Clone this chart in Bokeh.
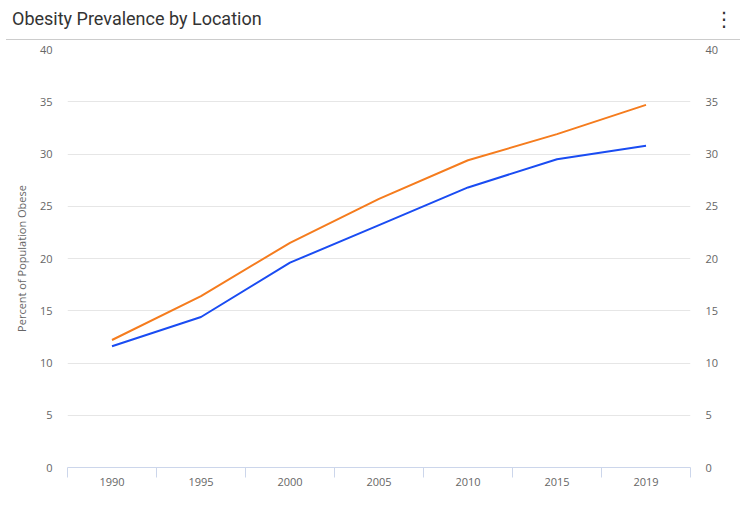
from bokeh.plotting import figure
from bokeh.layouts import column
from bokeh.models import (Range1d, LinearAxis, FixedTicker, Div)
from bokeh.embed import file_html
from bokeh.resources import INLINE

years = ["1990", "1995", "2000", "2005", "2010", "2015", "2019"]
series_a = [11.6, 14.4, 19.6, 23.2, 26.8, 29.5, 30.8]   # blue
series_b = [12.2, 16.4, 21.5, 25.7, 29.4, 31.9, 34.7]   # orange
y_ticks = [0, 5, 10, 15, 20, 25, 30, 35, 40]
title_text = "Obesity Prevalence by Location"
y_label = "Percent of Population Obese"

FONT = "Open Sans"
GREY = "#666666"
W, H, HEAD = 752, 521, 40
LEFT, RIGHT = 67, 62   # plot borders (frame edges)

# ---- header: title, menu dots and separator line ----
header_html = (
    '<div style="position:relative;width:752px;height:40px;margin:0;padding:0;">'
    '<span style="position:absolute;left:12px;top:8px;font-family:Roboto;'
    'font-size:18px;line-height:22px;color:#333333;white-space:nowrap;">'
    + title_text + '</span>'
    '<span style="position:absolute;left:714px;top:7px;width:16px;text-align:center;'
    'font-family:\'DejaVu Sans\';font-size:20px;line-height:24px;color:#333333;">'
    '\u22ee</span>'
    '<div style="position:absolute;left:6px;top:39px;width:734px;height:1px;'
    'background-color:#cccccc;"></div>'
    '</div>'
)
head = Div(text=header_html, width=W, height=HEAD, margin=(0, 0, 0, 0))

# ---- main chart ----
n = len(years)
xpos = [i + 0.5 for i in range(n)]  # category centres on an index scale

p = figure(width=W, height=H - HEAD, x_range=Range1d(0, n), y_range=Range1d(0, 40),
           output_backend="svg", toolbar_location=None, x_axis_location=None,
           y_axis_location=None, min_border_left=LEFT, min_border_right=RIGHT,
           min_border_top=9, min_border_bottom=54)
p.outline_line_color = None
p.background_fill_color = "white"
p.border_fill_color = "white"

p.xgrid.grid_line_color = None
p.ygrid.ticker = FixedTicker(ticks=y_ticks)
p.ygrid.grid_line_color = "#e6e6e6"
p.ygrid.grid_line_width = 1

for side in ("left", "right"):
    ax = LinearAxis(ticker=FixedTicker(ticks=y_ticks))
    ax.axis_line_color = None
    ax.major_tick_line_color = None
    ax.minor_tick_line_color = None
    ax.major_tick_out = 0
    ax.major_tick_in = 0
    ax.major_label_standoff = 15
    ax.major_label_text_font = FONT
    ax.major_label_text_font_size = "11px"
    ax.major_label_text_color = GREY
    if side == "left":
        ax.axis_label = y_label
        ax.axis_label_text_font = FONT
        ax.axis_label_text_font_size = "11px"
        ax.axis_label_text_font_style = "normal"
        ax.axis_label_text_color = GREY
        ax.axis_label_standoff = 8
    p.add_layout(ax, side)

xax = LinearAxis(ticker=FixedTicker(ticks=xpos, minor_ticks=list(range(n + 1))))
xax.major_label_overrides = {x: y for x, y in zip(xpos, years)}
xax.axis_line_color = "#ccd6eb"
xax.major_tick_line_color = None
xax.major_tick_out = 0
xax.major_tick_in = 0
xax.minor_tick_line_color = "#ccd6eb"
xax.minor_tick_out = 10
xax.minor_tick_in = 0
xax.major_label_standoff = 0
xax.major_label_text_font = FONT
xax.major_label_text_font_size = "11px"
xax.major_label_text_color = GREY
p.add_layout(xax, "below")

p.line(xpos, series_a, line_color="#1a4cf2", line_width=2)
p.line(xpos, series_b, line_color="#f57c1e", line_width=2)

layout = column(head, p, spacing=0)
open("out.html", "w").write(file_html(layout, INLINE))
